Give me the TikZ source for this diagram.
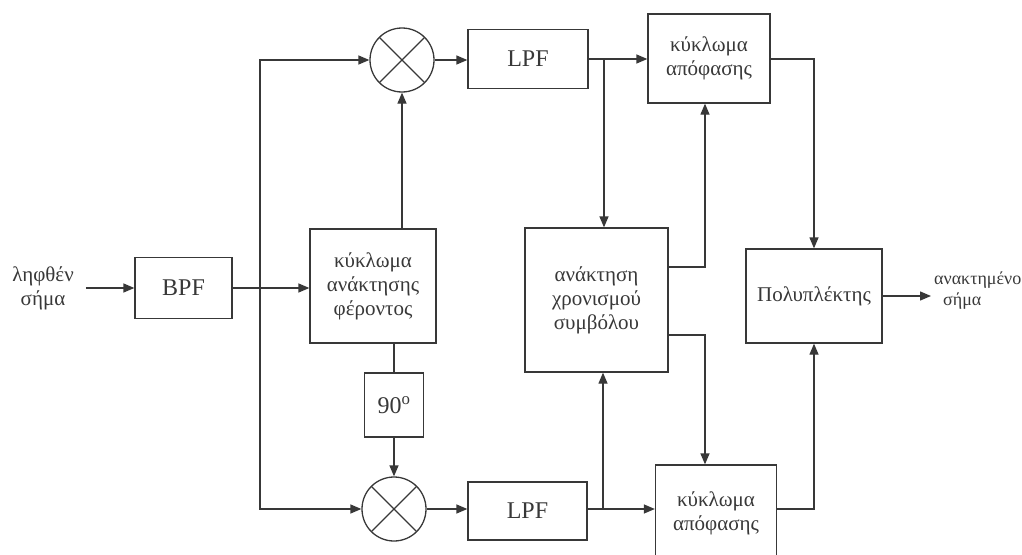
\documentclass[tikz,border=0pt]{standalone}
\usepackage{fontspec}
\setmainfont{Liberation Serif}
\usetikzlibrary{arrows.meta}
\definecolor{ink}{gray}{0.22}
\newcommand{\gtext}{\fontsize{21}{24}\selectfont}
\newcommand{\ltext}{\fontsize{24}{28}\selectfont}
\newcommand{\otext}{\fontsize{18}{21}\selectfont}
\tikzset{
  blk/.style={draw=ink, line width=1.3pt, rectangle, inner sep=0pt, align=center,
              text=ink, font=\gtext},
  mixer/.style={draw=ink, line width=1.3pt, circle, minimum size=64pt, inner sep=0pt,
              path picture={\draw[ink, line width=1.3pt]
                (path picture bounding box.north west) -- (path picture bounding box.south east)
                (path picture bounding box.north east) -- (path picture bounding box.south west);}},
  lbl/.style={text=ink, font=\gtext, inner sep=0pt},
  wire/.style={draw=ink, line width=1.3pt},
  arr/.style={wire, -{Triangle[length=11pt,width=9pt]}}
}
\begin{document}
\begin{tikzpicture}[x=1pt,y=-1pt]
\useasboundingbox (0,0) rectangle (1022,554);

% blocks
\node[lbl, align=center] (inp) at (43,288) {ληφθέν\\σήμα};
\node[blk, minimum width=97pt, minimum height=61pt, font=\ltext] (bpf) at (183.5,288) {BPF};
\node[blk, minimum width=126pt, minimum height=114pt] (car) at (373,286) {κύκλωμα\\ανάκτησης\\φέροντος};
\node[mixer] (mixT) at (402,60) {};
\node[mixer] (mixB) at (394,509) {};
\node[blk, minimum width=59pt, minimum height=64pt, font=\ltext] (deg) at (394,405) {90\textsuperscript{o}};
\node[blk, minimum width=120pt, minimum height=59pt, font=\ltext] (lpfT) at (528,59) {LPF};
\node[blk, minimum width=119pt, minimum height=58pt, font=\ltext] (lpfB) at (527.5,511) {LPF};
\node[blk, minimum width=122pt, minimum height=89pt] (decT) at (709,58.5) {κύκλωμα\\απόφασης};
\node[blk, minimum width=121pt, minimum height=96pt] (decB) at (716,513) {κύκλωμα\\απόφασης};
\node[blk, minimum width=143pt, minimum height=144pt] (tim) at (596.5,300) {ανάκτηση\\χρονισμού\\συμβόλου};
\node[blk, minimum width=136pt, minimum height=94pt] (mux) at (814,296) {Πολυπλέκτης};
\node[lbl, font=\otext, align=left, anchor=west] (outp) at (934,291) {ανακτημένο\\\hspace*{9pt}σήμα};

% junction points
\coordinate (split) at (260,288);
\coordinate (jT) at (604,59);
\coordinate (jB) at (603,509);
\coordinate (tapU) at (705,267);
\coordinate (tapD) at (705,335);
\coordinate (outEnd) at (931,296);

% connectors
\draw[arr] (inp.east |- bpf.west) ++(12,0) -- (bpf.west);
\draw[arr] (bpf.east) -- (bpf.east -| car.west);
\draw[arr] (split) |- (mixT.west);
\draw[arr] (split) |- (mixB.west);
\draw[arr] (car.north -| mixT) -- (mixT.south);
\draw[wire] (car.south -| deg) -- (deg.north);
\draw[arr] (deg.south) -- (mixB.north);
\draw[arr] (mixT.east) -- (mixT.east -| lpfT.west);
\draw[arr] (mixB.east) -- (mixB.east -| lpfB.west);
\draw[arr] (lpfT.east |- jT) -- (jT -| decT.west);
\draw[arr] (lpfB.east |- jB) -- (jB -| decB.west);
\draw[arr] (jT) -- (jT |- tim.north);
\draw[arr] (jB) -- (jB |- tim.south);
\draw[arr] (tapU -| tim.east) -- (tapU) -- (tapU |- decT.south);
\draw[arr] (tapD -| tim.east) -- (tapD) -- (tapD |- decB.north);
\draw[arr] (decT.east |- jT) -| (mux.north);
\draw[arr] (decB.east |- jB) -| (mux.south);
\draw[arr] (mux.east |- outEnd) -- (outEnd);
\end{tikzpicture}
\end{document}
